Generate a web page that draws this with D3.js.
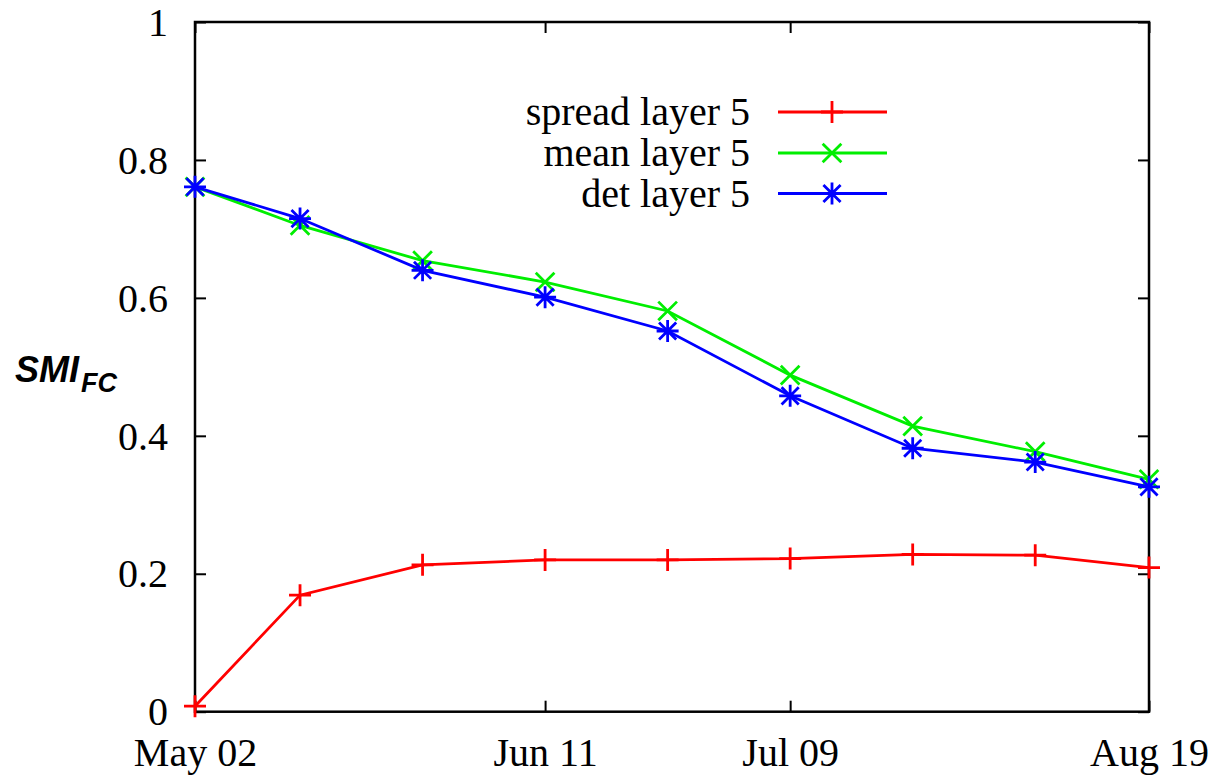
<!DOCTYPE html>
<html>
<head>
<meta charset="utf-8">
<script src="https://cdn.jsdelivr.net/npm/d3@7"></script>
<style>
  html, body { margin: 0; padding: 0; background: #fff; }
  svg { display: block; }
</style>
</head>
<body>
<svg id="chart" width="1211" height="775"></svg>
<script>
// Sampling dates
const dates = ["2000-05-02","2000-05-14","2000-05-28","2000-06-11","2000-06-25","2000-07-09","2000-07-23","2000-08-06","2000-08-19"];
const spread = [0.008, 0.169, 0.213, 0.220, 0.220, 0.222, 0.228, 0.227, 0.209];
const mean   = [0.761, 0.705, 0.654, 0.623, 0.581, 0.488, 0.414, 0.377, 0.337];
const det    = [0.761, 0.715, 0.640, 0.601, 0.552, 0.458, 0.382, 0.362, 0.326];
const xTickDates = ["2000-05-02","2000-06-11","2000-07-09","2000-08-19"];
const yTicks = [0, 0.2, 0.4, 0.6, 0.8, 1];
const seriesNames = ["spread layer 5", "mean layer 5", "det layer 5"];
const seriesColors = ["#ff0000", "#00ee00", "#0000ff"];
const seriesSymbols = ["plus", "cross", "star"];

const parse = d3.utcParse("%Y-%m-%d");
const fmt = d3.utcFormat("%b %d");

const svg = d3.select("#chart");
const plotLeft = 195, plotRight = 1149, plotTop = 22, plotBottom = 711.7;

const x = d3.scaleUtc()
  .domain([parse(dates[0]), parse(dates[dates.length - 1])])
  .range([plotLeft, plotRight]);
const y = d3.scaleLinear().domain([0, 1]).range([plotBottom, plotTop]);

const serif = "'Liberation Serif', 'Times New Roman', serif";
const fontSize = 40;
const tickLen = 11;

// Axes with inward ticks on all four sides
const axB = d3.axisBottom(x).tickValues(xTickDates.map(parse)).tickFormat(fmt)
  .tickSizeInner(-tickLen).tickSizeOuter(0).tickPadding(26);
const axT = d3.axisTop(x).tickValues(xTickDates.map(parse)).tickFormat("")
  .tickSizeInner(-tickLen).tickSizeOuter(0);
const axL = d3.axisLeft(y).tickValues(yTicks).tickFormat(d => d3.format("")(+d.toFixed(1)))
  .tickSizeInner(-tickLen).tickSizeOuter(0).tickPadding(27);
const axR = d3.axisRight(y).tickValues(yTicks).tickFormat("")
  .tickSizeInner(-tickLen).tickSizeOuter(0);

function styleAxis(g) {
  g.select(".domain").remove();
  g.selectAll(".tick line").attr("stroke", "#000").attr("stroke-width", 2);
  g.selectAll(".tick text").attr("fill", "#000")
    .style("font-family", serif).style("font-size", fontSize + "px");
}

svg.append("g").attr("transform", `translate(0,${plotBottom})`).call(axB).call(styleAxis)
  .selectAll(".tick text").attr("dy", "0.71em");
svg.append("g").attr("transform", `translate(0,${plotTop})`).call(axT).call(styleAxis);
svg.append("g").attr("transform", `translate(${plotLeft},0)`).call(axL).call(styleAxis)
  .selectAll(".tick text").attr("dy", "0.33em");
svg.append("g").attr("transform", `translate(${plotRight},0)`).call(axR).call(styleAxis);

// Plot frame
svg.append("rect")
  .attr("x", plotLeft).attr("y", plotTop)
  .attr("width", plotRight - plotLeft).attr("height", plotBottom - plotTop)
  .attr("fill", "none").attr("stroke", "#000").attr("stroke-width", 2.5);

// Y axis title: SMI with subscript FC
const title = svg.append("text")
  .attr("x", 15).attr("y", 382)
  .style("font-family", "'Liberation Sans', Arial, sans-serif")
  .style("font-weight", "bold").style("font-style", "italic")
  .attr("fill", "#000");
title.append("tspan").style("font-size", "36px").text("SMI");
title.append("tspan").style("font-size", "27px").attr("dy", 10).attr("dx", 2).text("FC");

// Point symbols
const R = 11;
function symbolPath(kind, cx, cy) {
  const p = d3.path();
  if (kind === "plus" || kind === "star") {
    p.moveTo(cx - R, cy); p.lineTo(cx + R, cy);
    p.moveTo(cx, cy - R); p.lineTo(cx, cy + R);
  }
  if (kind === "cross" || kind === "star") {
    const r = kind === "star" ? R * 0.78 : R * 0.85;
    p.moveTo(cx - r, cy - r); p.lineTo(cx + r, cy + r);
    p.moveTo(cx - r, cy + r); p.lineTo(cx + r, cy - r);
  }
  return p.toString();
}

const allSeries = [spread, mean, det];
const line = d3.line().x(d => x(d.date)).y(d => y(d.v));

allSeries.forEach((vals, i) => {
  const pts = vals.map((v, j) => ({ date: parse(dates[j]), v }));
  const g = svg.append("g");
  g.append("path").datum(pts)
    .attr("d", line).attr("fill", "none")
    .attr("stroke", seriesColors[i]).attr("stroke-width", 2.8);
  g.selectAll("path.sym").data(pts).join("path")
    .attr("class", "sym")
    .attr("d", d => symbolPath(seriesSymbols[i], x(d.date), y(d.v)))
    .attr("stroke", seriesColors[i]).attr("stroke-width", 2.8).attr("fill", "none");
});

// Legend
const legRows = [112, 153, 193.5];
seriesNames.forEach((name, i) => {
  const ly = legRows[i];
  svg.append("text")
    .attr("x", 750).attr("y", ly).attr("dy", "0.33em")
    .attr("text-anchor", "end")
    .style("font-family", serif).style("font-size", fontSize + "px")
    .attr("fill", "#000").text(name);
  svg.append("line")
    .attr("x1", 778).attr("x2", 887).attr("y1", ly).attr("y2", ly)
    .attr("stroke", seriesColors[i]).attr("stroke-width", 2.8);
  svg.append("path")
    .attr("d", symbolPath(seriesSymbols[i], 832, ly))
    .attr("stroke", seriesColors[i]).attr("stroke-width", 2.8).attr("fill", "none");
});
</script>
</body>
</html>
